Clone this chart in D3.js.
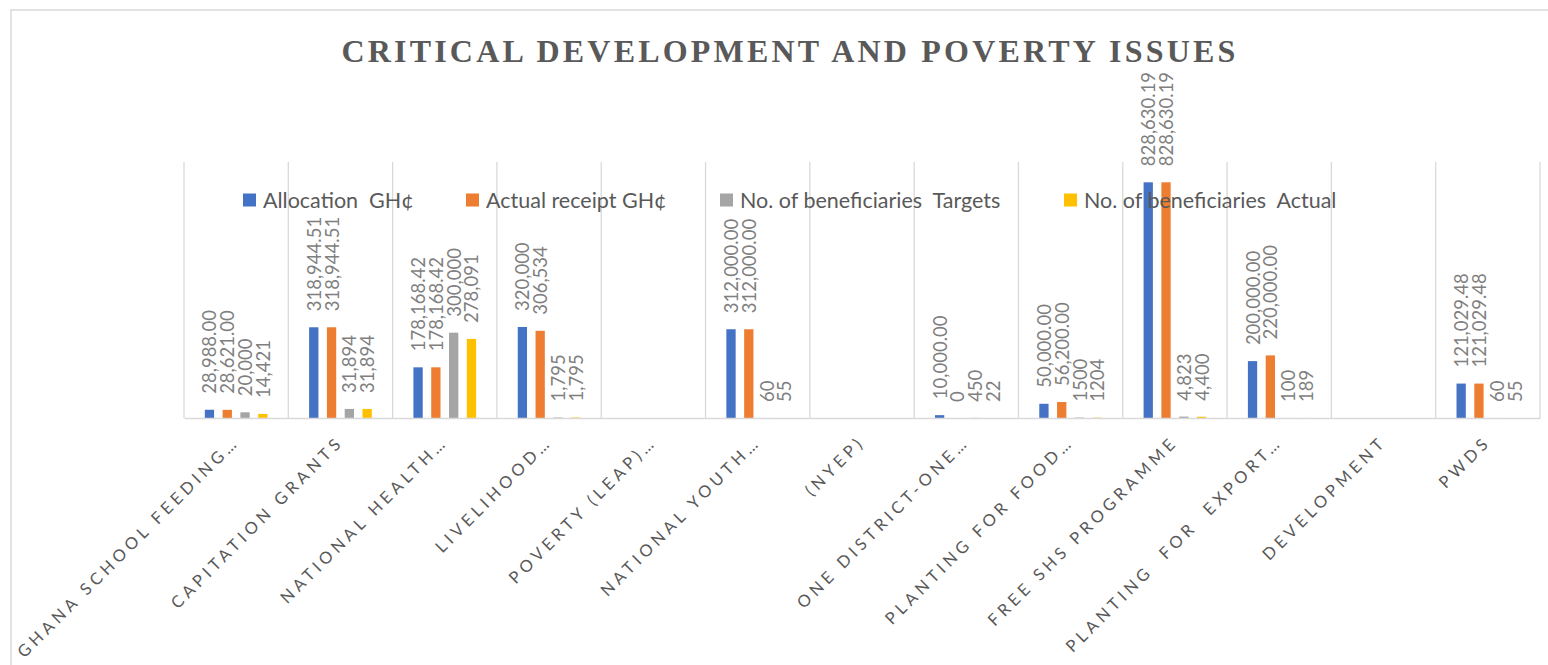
<!DOCTYPE html>
<html>
<head>
<meta charset="utf-8">
<script src="https://cdn.jsdelivr.net/npm/d3@7"></script>
<style>
  html, body { margin: 0; padding: 0; background: #fff; }
  svg { display: block; }
  text { white-space: pre; }
</style>
</head>
<body>
<svg id="chart" width="1548" height="665"></svg>
<script>
// ---------------- data ----------------
const title = "CRITICAL DEVELOPMENT AND POVERTY ISSUES";
const categories = [
  "GHANA SCHOOL FEEDING…", "CAPITATION GRANTS", "NATIONAL HEALTH…", "LIVELIHOOD…",
  "POVERTY (LEAP)…", "NATIONAL YOUTH…", "(NYEP)", "ONE DISTRICT-ONE…",
  "PLANTING FOR FOOD…", "FREE SHS PROGRAMME", "PLANTING  FOR  EXPORT…", "DEVELOPMENT", "PWDS"
];
const seriesNames = ["Allocation  GH¢", "Actual receipt GH¢", "No. of beneficiaries  Targets", "No. of beneficiaries  Actual"];
const allocation    = [28988, 318944.51, 178168.42, 320000, null, 312000, null, 10000, 50000, 828630.19, 200000, null, 121029.48];
const actualReceipt = [28621, 318944.51, 178168.42, 306534, null, 312000, null, 0, 56200, 828630.19, 220000, null, 121029.48];
const benefTargets  = [20000, 31894, 300000, 1795, null, 60, null, 450, 1500, 4823, 100, null, 60];
const benefActual   = [14421, 31894, 278091, 1795, null, 55, null, 22, 1204, 4400, 189, null, 55];
// number format of each data label: c2 = comma + 2 decimals, c0 = comma no decimals, n0 = plain integer
const fmtAllocation    = ["c2","c2","c2","c0",null,"c2",null,"c2","c2","c2","c2",null,"c2"];
const fmtActualReceipt = ["c2","c2","c2","c0",null,"c2",null,"n0","c2","c2","c2",null,"c2"];
const fmtTargets       = ["c0","c0","c0","c0",null,"c0",null,"c0","n0","c0","c0",null,"c0"];
const fmtActual        = ["c0","c0","c0","c0",null,"c0",null,"c0","n0","c0","c0",null,"c0"];
const yMax = 900000;
const colors = ["#4472C4", "#ED7D31", "#A5A5A5", "#FFC000"];

const seriesValues = [allocation, actualReceipt, benefTargets, benefActual];
const seriesFormats = [fmtAllocation, fmtActualReceipt, fmtTargets, fmtActual];
const formatters = { c2: d3.format(",.2f"), c0: d3.format(",.0f"), n0: d3.format(".0f") };

// ---------------- layout ----------------
const svg = d3.select("#chart");
const plot = { left: 184, right: 1540, top: 162, bottom: 418 };

svg.append("rect")
  .attr("x", 11).attr("y", 10).attr("width", 1600).attr("height", 700)
  .attr("fill", "#fff").attr("stroke", "#d9d9d9").attr("stroke-width", 1.5);

svg.append("text")
  .attr("x", 790).attr("y", 62)
  .attr("text-anchor", "middle")
  .attr("font-family", "'Liberation Serif', 'DejaVu Serif', serif")
  .attr("font-weight", "bold")
  .attr("font-size", 32)
  .attr("letter-spacing", "3.2px")
  .attr("fill", "#595959")
  .text(title);

const x = d3.scaleBand().domain(categories).range([plot.left, plot.right]).padding(0);
const xs = d3.scaleBand().domain(d3.range(4)).range([0, x.bandwidth()])
  .paddingInner(0.478).paddingOuter(1.17);
const y = d3.scaleLinear().domain([0, yMax]).range([plot.bottom, plot.top]);

// vertical category gridlines
const bounds = categories.map(c => x(c)).concat([x.range()[1]]);
svg.append("g").selectAll("line").data(bounds).join("line")
  .attr("x1", d => d).attr("x2", d => d)
  .attr("y1", plot.top).attr("y2", plot.bottom)
  .attr("stroke", "#d9d9d9").attr("stroke-width", 1.3);

// bars
const barData = [];
seriesValues.forEach((vals, si) => {
  vals.forEach((v, ci) => {
    if (v !== null) barData.push({ si, ci, v, f: seriesFormats[si][ci] });
  });
});
svg.append("g").selectAll("rect").data(barData).join("rect")
  .attr("x", d => x(categories[d.ci]) + xs(d.si))
  .attr("width", xs.bandwidth())
  .attr("y", d => y(d.v))
  .attr("height", d => y(0) - y(d.v))
  .attr("fill", d => colors[d.si]);

// x axis
const xAxis = svg.append("g")
  .attr("transform", `translate(0,${plot.bottom})`)
  .call(d3.axisBottom(x).tickSize(0).tickPadding(0));
xAxis.select(".domain").attr("stroke", "#d9d9d9").attr("stroke-width", 1.6);
xAxis.selectAll(".tick text")
  .attr("font-family", "Lato, 'Open Sans', sans-serif")
  .attr("font-size", 16.5)
  .attr("letter-spacing", "4.2px")
  .attr("fill", "#595959")
  .attr("text-anchor", "end")
  .attr("dy", null).attr("y", null)
  .attr("transform", "translate(4,25) rotate(-45)");

// data labels
svg.append("g").selectAll("text").data(barData).join("text")
  .attr("transform", d => {
    const cx = x(categories[d.ci]) + xs(d.si) + xs.bandwidth() / 2;
    return `translate(${cx},${y(d.v) - 16}) rotate(-90)`;
  })
  .attr("text-anchor", "start")
  .attr("dominant-baseline", "central")
  .attr("font-family", "Lato, 'Open Sans', sans-serif")
  .attr("font-size", 18.5)
  .attr("fill", "#7f7f7f")
  .text(d => formatters[d.f](d.v));

// legend
const legendX = [243, 466, 720, 1064];
const lg = svg.append("g").selectAll("g").data(seriesNames).join("g")
  .attr("transform", (d, i) => `translate(${legendX[i]},200)`);
lg.append("rect").attr("x", 0).attr("y", -6.5).attr("width", 13).attr("height", 13)
  .attr("fill", (d, i) => colors[i]);
lg.append("text").attr("x", 20).attr("y", 0)
  .attr("dominant-baseline", "central")
  .attr("font-family", "Lato, 'Open Sans', sans-serif")
  .attr("font-size", 21.5)
  .attr("fill", "#595959")
  .text(d => d);
</script>
</body>
</html>
